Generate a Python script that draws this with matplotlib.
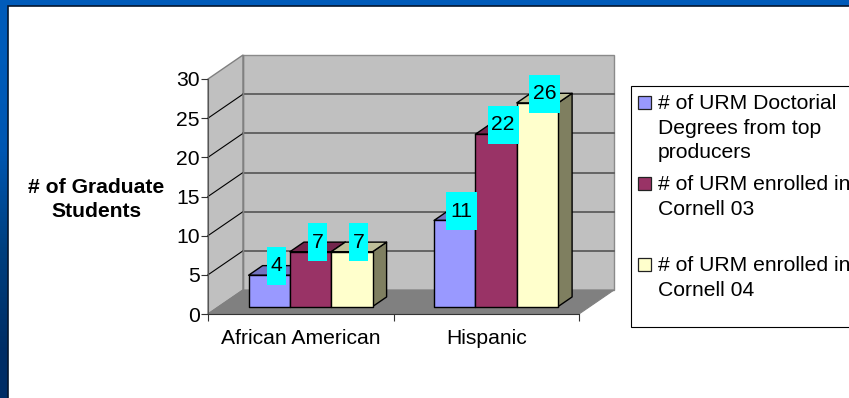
#!/usr/bin/env python3
# -*- coding: utf-8 -*-
import numpy as np
import matplotlib
matplotlib.use("Agg")
import matplotlib.pyplot as plt
from matplotlib.patches import Polygon, Rectangle

categories = ["African American", "Hispanic"]
series_names = ["# of URM Doctorial\nDegrees from top\nproducers",
                "# of URM enrolled in\nCornell 03",
                "# of URM enrolled in\nCornell 04"]
doctoral = [4, 11]
cornell_03 = [7, 22]
cornell_04 = [7, 26]
y_ticks = [0, 5, 10, 15, 20, 25, 30]

W, H = 849, 398
FS = 15.2
FRONT_FILL = ["#9999FF", "#993366", "#FFFFCC"]
TOP_FILL = ["#7373BF", "#73264D", "#BFBF99"]
SIDE_FILL = ["#7373BF", "#73264D", "#7F7F60"]

plt.rcParams["font.family"] = ["Liberation Sans", "DejaVu Sans"]
fig = plt.figure(figsize=(W / 100, H / 100), dpi=100)

# ----------------------------------------------------------------------
# slide background and legend, in pixel coordinates
# ----------------------------------------------------------------------
bg = fig.add_axes([0, 0, 1, 1])
bg.set_xlim(0, W)
bg.set_ylim(H, 0)
bg.axis("off")
grad = np.array([[[0.0, 0.36, 0.73]], [[0.0, 0.34, 0.70]], [[0.0, 0.25, 0.50]], [[0.0, 0.18, 0.40]]])
bg.imshow(grad, extent=[0, W, H, 0], aspect="auto", interpolation="bilinear")
bg.add_patch(Rectangle((8, 6), W, H, fc="white", ec="#06162E", lw=1.2))

bg.add_patch(Rectangle((631.5, 85.5), 240, 241, fc="white", ec="black", lw=0.8))
legend_y = [102, 183, 264]
for color, name, ly in zip(FRONT_FILL, series_names, legend_y):
    bg.add_patch(Rectangle((638, ly - 6), 13, 13, fc=color, ec="#222222", lw=0.9))
    bg.text(658, ly - 8, name, fontsize=FS, va="top", ha="left", color="black",
            linespacing=1.38, clip_on=True)

bg.text(96, 199.5, "# of Graduate\nStudents", fontsize=FS, fontweight="bold",
        ha="center", va="center", linespacing=1.35)

# ----------------------------------------------------------------------
# chart axes: front plane of the 3D box
# ----------------------------------------------------------------------
X0, X1, Y0, Y30 = 208, 579, 314, 79
ax = fig.add_axes([X0 / W, 1 - Y0 / H, (X1 - X0) / W, (Y0 - Y30) / H])
ax.patch.set_alpha(0)
ax.set_xlim(0, 2)
ax.set_ylim(0, 30)

px_x = 2 / (X1 - X0)
px_y = 30 / (Y0 - Y30)
DX = 35 * px_x   # full depth of the box
DY = 24 * px_y


def proj(x, y, d):
    """Point at depth d (0 front, 1 back) in data coordinates."""
    return (x + d * DX, y + d * DY)


def face(points, **kw):
    ax.add_patch(Polygon(points, closed=True, clip_on=False, **kw))


# walls and floor
face([proj(0, 0, 1), proj(2, 0, 1), proj(2, 30, 1), proj(0, 30, 1)],
     fc="#C0C0C0", ec="#8A8A8A", lw=1, zorder=1)
face([proj(0, 0, 0), proj(0, 0, 1), proj(0, 30, 1), proj(0, 30, 0)],
     fc="#C0C0C0", ec="#808080", lw=1, zorder=1)
face([proj(0, 0, 0), proj(2, 0, 0), proj(2, 0, 1), proj(0, 0, 1)],
     fc="#808080", ec="#808080", lw=0.8, zorder=1)

for v in y_ticks[1:-1]:
    ax.plot(*zip(proj(0, v, 0), proj(0, v, 1)), color="black", lw=0.8, zorder=2, clip_on=False)
    ax.plot(*zip(proj(0, v, 1), proj(2, v, 1)), color="#555555", lw=1.2, zorder=2, clip_on=False)
ax.plot(*zip(proj(0, 0, 1), proj(0, 30, 1)), color="#808080", lw=1, zorder=2, clip_on=False)

# bars
BAR_W = 0.2228
D0, D1 = 0.31, 0.71
values = [doctoral, cornell_03, cornell_04]
GROUP_SHIFT = -1 * px_x
z = 3
for c in range(len(categories)):
    left = c + 0.5 - 1.5 * BAR_W + GROUP_SHIFT
    for s, vals in enumerate(values):
        v = vals[c]
        x0 = left + s * BAR_W
        x1 = x0 + BAR_W
        face([proj(x1, 0, D0), proj(x1, 0, D1), proj(x1, v, D1), proj(x1, v, D0)],
             fc=SIDE_FILL[s], ec="black", lw=1, joinstyle="round", zorder=z)
        face([proj(x0, v, D0), proj(x1, v, D0), proj(x1, v, D1), proj(x0, v, D1)],
             fc=TOP_FILL[s], ec="black", lw=1, joinstyle="round", zorder=z)
        face([proj(x0, 0, D0), proj(x1, 0, D0), proj(x1, v, D0), proj(x0, v, D0)],
             fc=FRONT_FILL[s], ec="black", lw=1, joinstyle="round", zorder=z + 1)

# value labels on cyan boxes
for c in range(len(categories)):
    left = c + 0.5 - 1.5 * BAR_W + GROUP_SHIFT
    for s, vals in enumerate(values):
        v = vals[c]
        cx, cy = proj(left + (s + 0.5) * BAR_W, v, (D0 + D1) / 2)
        cy += 4.5 * px_y
        label = str(v)
        bw = (31 if len(label) == 2 else 19) * px_x
        bh = 38 * px_y
        ax.add_patch(Rectangle((cx - bw / 2, cy - bh / 2), bw, bh, fc="#00FFFF", ec="none",
                               zorder=20, clip_on=False))
        ax.text(cx, cy, label, fontsize=FS, ha="center", va="center", color="black",
                zorder=21, clip_on=False)

# axes
ax.set_yticks(y_ticks)
ax.set_xticks([0, 1, 2])
ax.set_xticklabels([])
ax.set_xticks([0.5, 1.5], minor=True)
ax.set_xticklabels(categories, minor=True)
ax.tick_params(axis="x", which="minor", length=0, pad=11, labelsize=FS)
ax.tick_params(axis="x", which="major", length=5, width=0.8, color="#333333")
ax.tick_params(axis="y", length=5, width=0.8, color="#333333", pad=1, labelsize=FS)
for name in ("top", "right"):
    ax.spines[name].set_visible(False)
ax.spines["left"].set_color("#555555")
ax.spines["bottom"].set_color("#333333")
for sp in ax.spines.values():
    sp.set_zorder(2.5)

fig.savefig("out.png", dpi=100)
